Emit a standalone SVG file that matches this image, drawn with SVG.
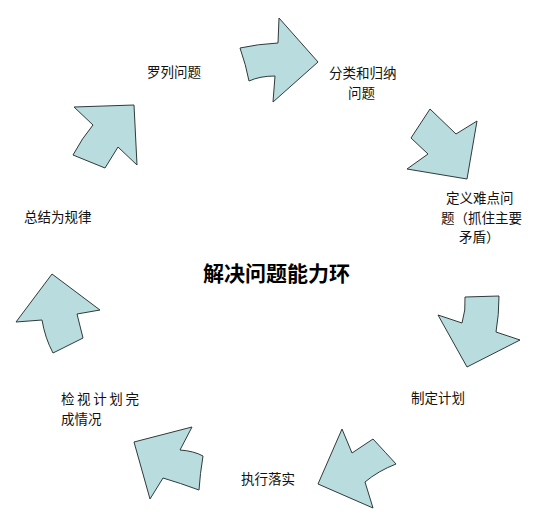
<svg xmlns="http://www.w3.org/2000/svg" width="552" height="527" viewBox="0 0 552 527">
<style>
.arr{fill:#B9DCDF;stroke:#2F3A3A;stroke-width:1;stroke-linejoin:miter}
.lbl{font-family:"Noto Sans CJK SC","Noto Sans",sans-serif;font-size:13.5px;fill:#111}
.title{font-family:"Noto Sans CJK SC","Noto Sans",sans-serif;font-size:21px;font-weight:bold;fill:#000}
</style>
<rect width="552" height="527" fill="#ffffff"/>
<g id="connectors">
<path class="arr" d="M240,48 Q258,44 278,43 L279,18 L318,62 L273,102 L275,76 Q260,76 249,81 Q246,65 240,48 Z"/>
<path class="arr" d="M430,109 L456,134 L477,121 L467,179 L407,169 L428,154 L411,138 Z"/>
<path class="arr" d="M465,297 L499,296 Q499,315 496,332 L520,340 L467,367 L438,315 L462,323 Q466,310 465,297 Z"/>
<path class="arr" d="M342,429 L352,453 L373,439 Q386,453 396,464 Q378,471 365,482 L373,508 L318,484 Z"/>
<path class="arr" d="M134,442 L192,427 L180,450 Q194,451 203,456 Q200,474 199,490 Q180,483 163,478 L150,499 Z"/>
<path class="arr" d="M52,274 L100,310 L77,314 L83,338 L53,353 Q45,338 42,320 L16,322 Z"/>
<path class="arr" d="M74,107 L134,105 L137,165 L118,147 L105,168 L73,155 Q82,138 93,125 Z"/>
</g>
<g id="title"><text class="title" x="203" y="281">解决问题能力环</text></g>
<g id="n1"><text class="lbl" x="147" y="77">罗列问题</text></g>
<g id="n2"><text class="lbl" x="329" y="78">分类和归纳</text><text class="lbl" x="348" y="98">问题</text></g>
<g id="n3"><text class="lbl" x="446" y="203">定义难点问</text><text class="lbl" x="441" y="223">题（抓住主要</text><text class="lbl" x="459" y="242">矛盾）</text></g>
<g id="n4"><text class="lbl" x="411" y="403">制定计划</text></g>
<g id="n5"><text class="lbl" x="241" y="484">执行落实</text></g>
<g id="n6"><text class="lbl" x="61" y="404" letter-spacing="2.6">检视计划完</text><text class="lbl" x="61" y="424">成情况</text></g>
<g id="n7"><text class="lbl" x="24" y="222">总结为规律</text></g>
</svg>
